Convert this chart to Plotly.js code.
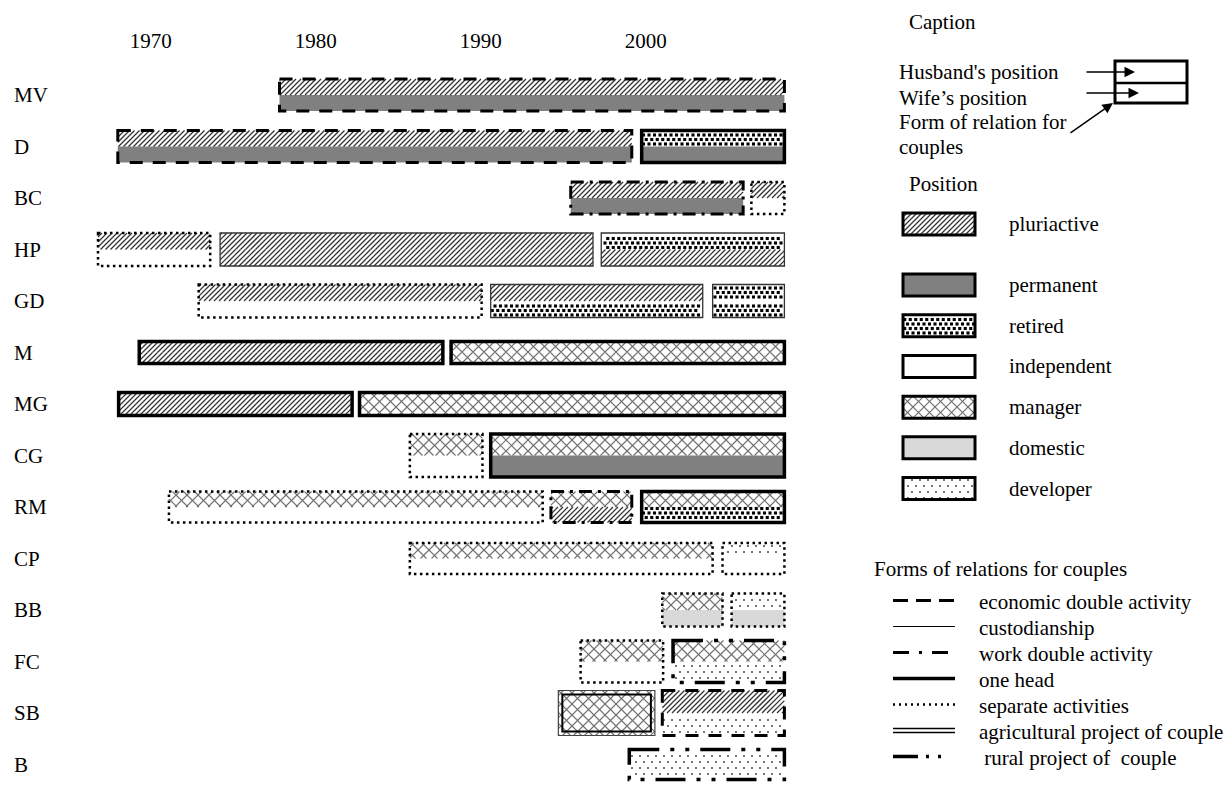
<!DOCTYPE html>
<html><head><meta charset="utf-8">
<script src="https://cdn.plot.ly/plotly-3.0.1.min.js"></script>
<style>html,body{margin:0;padding:0;background:#fff}#chart{width:1227px;height:802px}</style>
</head><body><div id="chart"></div>
<script>
// ---------------- DATA ----------------
const rows = ['MV','D','BC','HP','GD','M','MG','CG','RM','CP','BB','FC','SB','B'];
const tickYears = [1970, 1980, 1990, 2000];

const segRow = ['MV','D','D','BC','BC','HP','HP','HP','GD','GD','GD','M','M','MG','MG',
                'CG','CG','RM','RM','RM','CP','CP','BB','BB','FC','FC','SB','SB','B'];
const segStart = [1977.8,1968.0,1999.75,1995.45,2006.4,1966.8,1974.2,1997.3,1972.9,1990.6,2004.05,1969.3,1988.2,1968.05,1982.65,
                  1985.7,1990.6,1971.1,1994.25,1999.75,1985.7,2004.65,2001.0,2005.2,1996.05,2001.65,1994.7,2001.0,1999.0];
const segEnd   = [2008.4,1999.15,2008.4,2005.9,2008.4,1973.6,1996.8,2008.4,1990.05,2003.45,2008.4,1987.7,2008.4,1982.2,2008.4,
                  1990.1,2008.4,1993.75,1999.15,2008.4,2004.05,2008.4,2004.65,2008.4,2001.05,2008.4,2000.55,2008.4,2008.4];
const husbandPos = ['pluriactive','pluriactive','retired','pluriactive','pluriactive','pluriactive','pluriactive','retired',
                    'pluriactive','pluriactive','retired','pluriactive','manager','pluriactive','manager',
                    'manager','manager','manager','manager','manager','manager','developer','manager','developer',
                    'manager','manager','manager','pluriactive','developer'];
const wifePos    = ['permanent','permanent','permanent','permanent','independent','independent','pluriactive','pluriactive',
                    'independent','retired','retired','pluriactive','manager','pluriactive','manager',
                    'independent','permanent','independent','pluriactive','retired','independent','independent','domestic','domestic',
                    'independent','developer','manager','developer','developer'];
const relation   = ['economic','economic','onehead','work','separate','separate','custodianship','custodianship',
                    'separate','custodianship','custodianship','onehead','onehead','onehead','onehead',
                    'separate','onehead','separate','work','onehead','separate','separate','separate','separate',
                    'separate','rural','agricultural','economic','rural'];

const positionKeys   = ['pluriactive','permanent','retired','independent','manager','domestic','developer'];
const positionLabels = ['pluriactive','permanent','retired','independent','manager','domestic','developer'];
const relationKeys   = ['economic','custodianship','work','onehead','separate','agricultural','rural'];
const relationLabels = ['economic double activity','custodianship','work double activity','one head',
                        'separate activities','agricultural project of couple',' rural project of  couple'];

// ---------------- STYLE / LAYOUT CONFIG ----------------
const FONT = 'Liberation Serif, Times New Roman, serif';
const FS = 21;
const W = 1227, H = 802;
const PX_1970 = 150.8, PX_PER_YEAR = 16.5;
const PLOT_L = 90, PLOT_R = 800, PLOT_T = 60, PLOT_B = 800;
const ROW0_PX = 95, ROW_STEP = 51.5;
const rowHeightPx = {MV:32,D:32,BC:32,HP:33,GD:33,M:22,MG:23,CG:43,RM:31,CP:31,BB:33,FC:42,SB:45,B:30};

// solid background of each position + procedural texture drawn on top
const posFill = {pluriactive:'#ffffff', permanent:'#808080', retired:'#ffffff', independent:'#ffffff',
                 manager:'#ffffff', domestic:'#d9d9d9', developer:'#ffffff'};
const TEX = {
  pluriactive: {kind:'hatch', fam:[1], step:5, color:'#333333', width:1.25},
  manager:     {kind:'hatch', fam:[1,-1], step:11, color:'#707070', width:1.1},
  retired:     {kind:'dots', dx:5.5, dy:4.5, size:3.1, symbol:'square', color:'#000000'},
  developer:   {kind:'dots', dx:8, dy:6, size:2, symbol:'circle', color:'#444444'}
};
const relStyle = {
  economic:      {width:3,   color:'#000', dash:'13px,10px',                    legendDash:'15px,8px'},
  custodianship: {width:1.3, color:'#333', dash:'solid',                        legendDash:'solid'},
  work:          {width:3,   color:'#000', dash:'13px,6px,3px,6px',             legendDash:'16px,10px,3px,10px'},
  onehead:       {width:3.5, color:'#000', dash:'solid',                        legendDash:'solid'},
  separate:      {width:2.5, color:'#000', dash:'2.5px,3.5px',                  legendDash:'2px,4px'},
  agricultural:  {width:1.2, color:'#444', dash:'solid',                        legendDash:'solid'},
  rural:         {width:3.5, color:'#000', dash:'30px,11px,4px,11px,4px,11px',  legendDash:'25px,8px,3px,9px,3px,20px'}
};

// ---------------- HELPERS ----------------
const yearToPx = y => PX_1970 + (y - 1970) * PX_PER_YEAR;
const pxToYear = p => 1970 + (p - PX_1970) / PX_PER_YEAR;
const unitToPy = u => ROW0_PX + ROW_STEP * u;
const pyToUnit = p => (p - ROW0_PX) / ROW_STEP;

function hatch(x0, x1, y0, y1, dir, step, out) {
  if (dir === 1) {            // '/' : x + y = c
    for (let c = Math.ceil((x0 + y0) / step) * step; c <= x1 + y1; c += step) {
      const xa = Math.max(x0, c - y1), xb = Math.min(x1, c - y0);
      if (xb > xa) out.push([xa, c - xa, xb, c - xb]);
    }
  } else {                    // '\' : x - y = c
    for (let c = Math.ceil((x0 - y1) / step) * step; c <= x1 - y0; c += step) {
      const xa = Math.max(x0, y0 + c), xb = Math.min(x1, y1 + c);
      if (xb > xa) out.push([xa, xa - c, xb, xb - c]);
    }
  }
}
function dots(x0, x1, y0, y1, dx, dy, out) {
  for (let j = Math.ceil(y0 / dy); j * dy <= y1; j++) {
    const y = j * dy; if (y < y0 + 1.5 || y > y1 - 1.5) continue;
    const off = (Math.abs(j) % 2) ? dx / 2 : 0;
    for (let i = Math.ceil((x0 - off) / dx); i * dx + off <= x1; i++) {
      const x = i * dx + off; if (x < x0 + 1.5 || x > x1 - 1.5) continue;
      out.push([x, y]);
    }
  }
}
// rects in pixels -> texture traces in axis units
function textureTraces(rects, fx, fy, xa, ya) {
  const traces = [];
  Object.keys(TEX).forEach(key => {
    const t = TEX[key], sel = rects.filter(r => r.key === key);
    if (!sel.length) return;
    if (t.kind === 'hatch') {
      const segs = [];
      sel.forEach(r => t.fam.forEach(d => hatch(r.x0, r.x1, r.y0, r.y1, d, t.step, segs)));
      const X = [], Y = [];
      segs.forEach(s => { X.push(fx(s[0]), fx(s[2]), null); Y.push(fy(s[1]), fy(s[3]), null); });
      traces.push({type:'scatter', mode:'lines', x:X, y:Y, xaxis:xa, yaxis:ya, connectgaps:false,
                   line:{color:t.color, width:t.width}, hoverinfo:'skip', showlegend:false});
    } else {
      const pts = [];
      sel.forEach(r => dots(r.x0, r.x1, r.y0, r.y1, t.dx, t.dy, pts));
      traces.push({type:'scatter', mode:'markers', x:pts.map(p => fx(p[0])), y:pts.map(p => fy(p[1])),
                   xaxis:xa, yaxis:ya, marker:{symbol:t.symbol, size:t.size, color:t.color, line:{width:0}},
                   hoverinfo:'skip', showlegend:false});
    }
  });
  return traces;
}

// ---------------- BUILD ----------------
const rowIdx = segRow.map(r => rows.indexOf(r));
const halfH = segRow.map(r => rowHeightPx[r] / ROW_STEP / 2);
const dur = segEnd.map((e, k) => e - segStart[k]);

const husbandTrace = {
  type:'bar', orientation:'h', xaxis:'x', yaxis:'y',
  y: rowIdx, base: segStart, x: dur, offset: halfH.map(h => -h), width: halfH,
  marker: {color: husbandPos.map(k => posFill[k]), line:{width:0}},
  hoverinfo:'skip', showlegend:false, name:"Husband's position"
};
const wifeTrace = {
  type:'bar', orientation:'h', xaxis:'x', yaxis:'y',
  y: rowIdx, base: segStart, x: dur, offset: halfH.map(() => 0), width: halfH,
  marker: {color: wifePos.map(k => posFill[k]), line:{width:0}},
  hoverinfo:'skip', showlegend:false, name:"Wife's position"
};

// textures of the bars (pixel geometry derived from the data through the same linear scales)
const mainRects = [];
segRow.forEach((r, k) => {
  const x0 = yearToPx(segStart[k]), x1 = yearToPx(segEnd[k]);
  const yt = unitToPy(rowIdx[k] - halfH[k]), ym = unitToPy(rowIdx[k]), yb = unitToPy(rowIdx[k] + halfH[k]);
  mainRects.push({key: husbandPos[k], x0, x1, y0: yt, y1: ym});
  mainRects.push({key: wifePos[k], x0, x1, y0: ym, y1: yb});
});
const mainTex = textureTraces(mainRects, pxToYear, pyToUnit, 'x', 'y');

// legend canvas axis (x2/y2 in figure pixels)
const SW_X0 = 903, SW_W = 72, SW_H = 22, SW_Y0 = 224, SW_STEP = 40.7;
const swatchY = positionKeys.map((k, i) => SW_Y0 + SW_STEP * (i === 0 ? 0 : i + 0.5));
const swatchTrace = {
  type:'bar', orientation:'h', xaxis:'x2', yaxis:'y2',
  y: swatchY, base: positionKeys.map(() => SW_X0), x: positionKeys.map(() => SW_W),
  width: positionKeys.map(() => SW_H),
  marker: {color: positionKeys.map(k => posFill[k]), line:{width:0}},
  hoverinfo:'skip', showlegend:false
};
const legRects = positionKeys.map((k, i) => ({key:k, x0:SW_X0, x1:SW_X0 + SW_W, y0:swatchY[i] - SW_H/2, y1:swatchY[i] + SW_H/2}));
const legTex = textureTraces(legRects, v => v, v => v, 'x2', 'y2');

const shapes = [];
segRow.forEach((r, k) => {
  const i = rowIdx[k], h = halfH[k];
  const st = relStyle[relation[k]];
  shapes.push({type:'rect', xref:'x', yref:'y', x0:segStart[k], x1:segEnd[k], y0:i-h, y1:i+h,
               fillcolor:'rgba(0,0,0,0)', layer:'above', line:{color:st.color, width:st.width, dash:st.dash}});
  if (relation[k] === 'agricultural') {
    const dx = 4 / PX_PER_YEAR, dy = 4 / ROW_STEP;
    shapes.push({type:'rect', xref:'x', yref:'y', x0:segStart[k]+dx, x1:segEnd[k]-dx, y0:i-h+dy, y1:i+h-dy,
                 fillcolor:'rgba(0,0,0,0)', layer:'above', line:{color:'#000', width:2}});
  }
});
legRects.forEach(r => shapes.push({type:'rect', xref:'x2', yref:'y2', x0:r.x0, x1:r.x1, y0:r.y0, y1:r.y1,
  fillcolor:'rgba(0,0,0,0)', layer:'above', line:{color:'#000', width:3}}));

// caption box
shapes.push({type:'rect', xref:'x2', yref:'y2', x0:1115, x1:1187, y0:61, y1:103, line:{color:'#000', width:3}, fillcolor:'rgba(0,0,0,0)'});
shapes.push({type:'line', xref:'x2', yref:'y2', x0:1115, x1:1187, y0:83, y1:83, line:{color:'#000', width:2.5}});

// relation legend lines
const REL_Y0 = 600.5, REL_STEP = 26, REL_X0 = 893, REL_X1 = 955;
relationKeys.forEach((k, i) => {
  const y = REL_Y0 + REL_STEP * i, st = relStyle[k];
  if (k === 'agricultural') {
    [-2, 2].forEach(d => shapes.push({type:'line', xref:'x2', yref:'y2', x0:REL_X0, x1:REL_X1, y0:y+d, y1:y+d,
                                      line:{color:'#000', width:1.6}}));
  } else {
    shapes.push({type:'line', xref:'x2', yref:'y2', x0:REL_X0, x1:REL_X1, y0:y, y1:y,
                 line:{color:'#000', width:(k === 'custodianship' ? 1 : st.width), dash:st.legendDash}});
  }
});

const annotations = [];
const txt = (text, x, y) => ({text, x, y, xref:'x2', yref:'y2', xanchor:'left', yanchor:'middle',
  showarrow:false, font:{family:FONT, size:FS, color:'#000'}});

rows.forEach((r, i) => annotations.push({text:r, xref:'paper', yref:'y', x:12/W, y:i, xanchor:'left', yanchor:'middle',
  showarrow:false, font:{family:FONT, size:FS, color:'#000'}}));

annotations.push(txt('Caption', 907, 21.5));
annotations.push(txt("Husband's position", 897, 71.5));
annotations.push(txt('Wife\u2019s position', 897, 97.5));
annotations.push(txt('Form of relation for', 897, 122));
annotations.push(txt('couples', 897, 147));
annotations.push(txt('Position', 907, 183.5));
positionLabels.forEach((l, i) => annotations.push(txt(l, 1007, swatchY[i])));
annotations.push(txt('Forms of relations for couples', 872, 568.5));
relationLabels.forEach((l, i) => annotations.push(txt(l, 977, REL_Y0 + REL_STEP * i + 1)));

const arrow = (x, y, ax, ay) => ({text:'', x, y, ax, ay, xref:'x2', yref:'y2', axref:'x2', ayref:'y2',
  showarrow:true, arrowhead:2, arrowsize:1.4, arrowwidth:1.5, arrowcolor:'#000', standoff:0, startstandoff:0});
annotations.push(arrow(1135, 72, 1085, 72));
annotations.push(arrow(1139, 93, 1085, 93));
annotations.push(arrow(1113, 103, 1069, 134));

const layout = {
  width: W, height: H, margin:{l:0, r:0, t:0, b:0},
  paper_bgcolor:'#ffffff', plot_bgcolor:'rgba(0,0,0,0)',
  barmode:'overlay', showlegend:false,
  xaxis: {domain:[PLOT_L/W, PLOT_R/W], range:[pxToYear(PLOT_L), pxToYear(PLOT_R)],
          side:'top', anchor:'free', position: 1 - 52/H,
          tickmode:'array', tickvals: tickYears, ticktext: tickYears.map(String),
          showgrid:false, zeroline:false, showline:false, ticks:'',
          tickfont:{family:FONT, size:FS, color:'#000'}, fixedrange:true},
  yaxis: {domain:[1 - PLOT_B/H, 1 - PLOT_T/H], range:[pyToUnit(PLOT_B), pyToUnit(PLOT_T)],
          showticklabels:false, showgrid:false, zeroline:false, showline:false, ticks:'', fixedrange:true},
  xaxis2: {domain:[0,1], range:[0, W], anchor:'y2', visible:false, fixedrange:true},
  yaxis2: {domain:[0,1], range:[H, 0], anchor:'x2', visible:false, fixedrange:true},
  shapes, annotations
};

Plotly.newPlot('chart', [husbandTrace, wifeTrace, swatchTrace].concat(mainTex, legTex), layout,
               {displayModeBar:false, staticPlot:true});
</script>
</body></html>
